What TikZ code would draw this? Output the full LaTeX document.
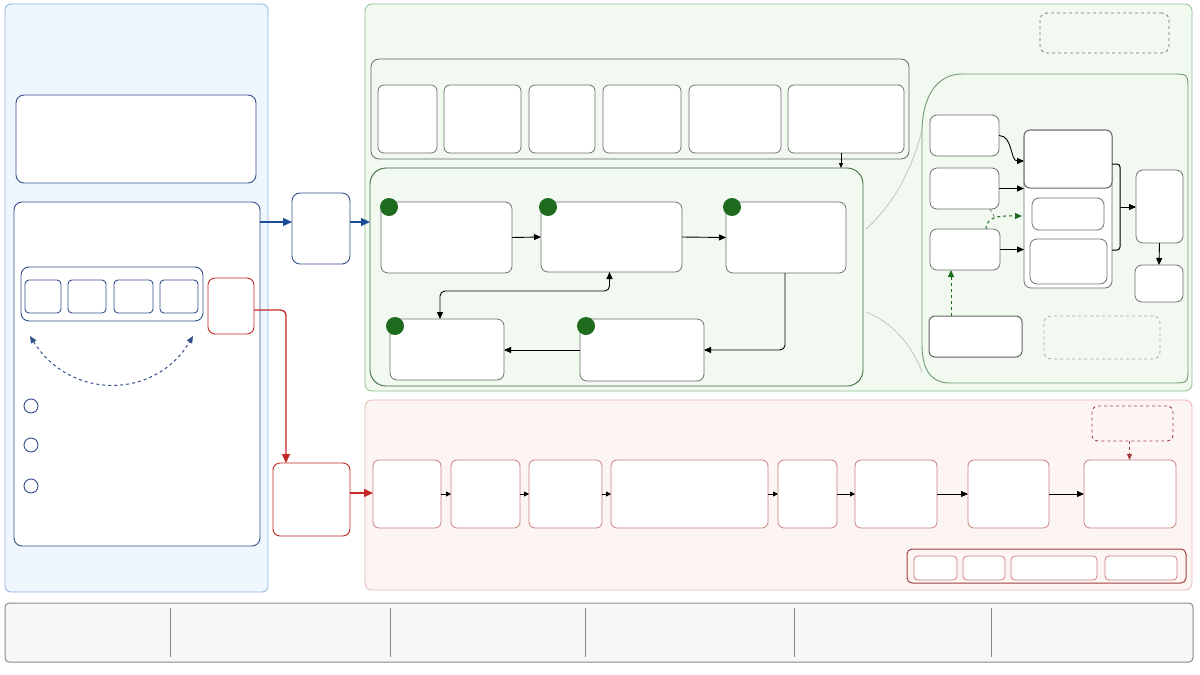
\documentclass[tikz,border=0pt]{standalone}
\usetikzlibrary{arrows.meta,calc}
\definecolor{bluefill}{HTML}{F0F6FD}
\definecolor{bluestroke}{HTML}{8DB4E2}
\definecolor{navy}{HTML}{34508C}
\definecolor{arrowblue}{HTML}{1C4C9C}
\definecolor{redc}{HTML}{C62828}
\definecolor{greenfill}{HTML}{F1F9F0}
\definecolor{greenstroke}{HTML}{8CC08C}
\definecolor{stategreen}{HTML}{3E6E3E}
\definecolor{stripgray}{HTML}{5F6F5F}
\definecolor{boxgray}{HTML}{707070}
\definecolor{dotgreen}{HTML}{1E6B1E}
\definecolor{pinkfill}{HTML}{FDF4F4}
\definecolor{pinkstroke}{HTML}{EBB5B5}
\definecolor{redbox}{HTML}{C98080}
\definecolor{darkred}{HTML}{A04040}
\definecolor{barfill}{HTML}{F7F7F7}
\definecolor{bargray}{HTML}{8A8A8A}
\newcommand\mybox[6]{\node[#1, inner sep=0pt, outer sep=0pt, minimum width={#5pt-#3pt}, minimum height={#6pt-#4pt}] (#2) at ({(#3+#5)/2},{(#4+#6)/2}) {};}
\tikzset{
  bpanel/.style={draw=bluestroke, fill=bluefill, rounded corners=6, line width=0.8pt},
  nbox/.style={draw=navy, fill=white, rounded corners=8, line width=0.9pt},
  nsmall/.style={draw=navy, fill=white, rounded corners=4, line width=0.9pt},
  rbox/.style={draw=redc, fill=white, rounded corners=7, line width=0.9pt},
  gpanel/.style={draw=greenstroke, fill=greenfill, rounded corners=7, line width=0.8pt},
  dashg/.style={draw=boxgray, dashed, rounded corners=7, line width=0.8pt},
  dashl/.style={draw=boxgray!60, dashed, rounded corners=7, line width=0.8pt},
  strip/.style={draw=stripgray, fill=greenfill, rounded corners=8, line width=0.8pt},
  gbox/.style={draw=boxgray, fill=white, rounded corners=6, line width=0.8pt},
  spanel/.style={draw=stategreen, fill=greenfill, rounded corners=16, line width=0.9pt},
  sbox/.style={draw=boxgray, fill=white, rounded corners=7, line width=0.8pt},
  dbox/.style={draw=boxgray!90!black, fill=white, rounded corners=6, line width=1pt},
  dot/.style={circle, fill=dotgreen, minimum size=18pt, inner sep=0pt},
  rpanel/.style={draw=pinkstroke, fill=pinkfill, rounded corners=7, line width=0.8pt},
  rrbox/.style={draw=redbox, fill=white, rounded corners=6, line width=0.8pt},
  legbox/.style={draw=darkred, fill=none, rounded corners=5, line width=1pt},
  legsmall/.style={draw=redbox, fill=white, rounded corners=4, line width=0.8pt},
  dashr/.style={draw=darkred, dashed, rounded corners=6, line width=0.9pt},
  bar/.style={draw=bargray, fill=barfill, rounded corners=4, line width=1pt},
  karrow/.style={draw=black, line width=0.9pt, -{Triangle[length=7pt,width=6pt]}},
  ksmall/.style={draw=black, line width=0.9pt, -{Triangle[length=5pt,width=5pt]}},
  barrow/.style={draw=arrowblue, line width=1.4pt, -{Triangle[length=9pt,width=8pt]}},
  rarrow/.style={draw=redc, line width=1.3pt, rounded corners=5, -{Triangle[length=9pt,width=8pt]}},
}
\begin{document}
\begin{tikzpicture}[x=1pt,y=-1pt]
\useasboundingbox[fill=white] (0,0) rectangle (1200,675);
% ---------- left panel
\mybox{bpanel}{P1}{5}{4}{268}{592}
\mybox{nbox}{A}{16}{95}{256}{183}
\mybox{nbox}{B}{14}{202}{260}{546}
\mybox{nbox}{Grp}{21}{267}{203}{321}
\mybox{nsmall}{g1}{25}{280}{61}{313}
\mybox{nsmall}{g2}{68}{280}{106}{313}
\mybox{nsmall}{g3}{114}{280}{153}{313}
\mybox{nsmall}{g4}{160}{280}{198}{313}
\mybox{rbox}{Rq}{208}{278}{254}{334}
\coordinate (arcL) at (30,336);
\coordinate (arcR) at (193,336);
\draw[navy, dashed, line width=1pt, {Triangle[length=7pt,width=6pt]}-{Triangle[length=7pt,width=6pt]}] (arcL) .. controls (70,400) and (155,400) .. (arcR);
\node[circle, draw=navy, line width=0.9pt, minimum size=14pt, inner sep=0pt] (c1) at (31,406) {};
\node[circle, draw=navy, line width=0.9pt, minimum size=14pt, inner sep=0pt] (c2) at (31,445) {};
\node[circle, draw=navy, line width=0.9pt, minimum size=14pt, inner sep=0pt] (c3) at (31,486) {};
% ---------- middle connectors
\mybox{nbox}{C}{292}{193}{350}{264}
\mybox{rbox}{D}{273}{463}{350}{536}
% ---------- green panel
\mybox{gpanel}{P2}{365}{4}{1192}{391}
\mybox{dashg}{N1}{1040}{13}{1169}{53}
\mybox{strip}{TS}{371}{59}{909}{159}
\mybox{gbox}{t1}{378}{85}{437}{153}
\mybox{gbox}{t2}{444}{85}{521}{153}
\mybox{gbox}{t3}{529}{85}{595}{153}
\mybox{gbox}{t4}{603}{85}{681}{153}
\mybox{gbox}{t5}{689}{85}{781}{153}
\mybox{gbox}{t6}{788}{85}{904}{153}
\mybox{spanel}{SP}{370}{168}{863}{386}
\coordinate (t6s) at ($(t6.south)+(-5,0)$);
\draw[draw=black, line width=0.8pt, -{Triangle[length=5pt,width=4pt]}] (t6s) -- (t6s |- SP.north);
\mybox{sbox}{S1}{381}{202}{512}{273}
\mybox{sbox}{S2}{541}{202}{682}{272}
\mybox{sbox}{S3}{726}{202}{846}{273}
\mybox{sbox}{S4}{390}{319}{504}{380}
\mybox{sbox}{S5}{580}{319}{704}{381}
\node[dot] (d1) at ($(S1.north west)+(8,5)$) {};
\node[dot] (d2) at ($(S2.north west)+(7,5)$) {};
\node[dot] (d3) at ($(S3.north west)+(6,5)$) {};
\node[dot] (d4) at ($(S4.north west)+(5,7)$) {};
\node[dot] (d5) at ($(S5.north west)+(6,7)$) {};
\draw[karrow] (S1.east) -- (S2.west);
\draw[karrow] (S2.east) -- (S3.west);
\draw[karrow, rounded corners=5] ($(S3.south)+(-1,0)$) |- (S5.east);
\draw[karrow] (S5.west) -- (S5.west -| S4.east);
\draw[karrow, {Triangle[length=7pt,width=6pt]}-{Triangle[length=7pt,width=6pt]}, rounded corners=5] ($(S2.south)+(-2,0)$) -- ++(0,19) -| ($(S4.north)+(-7,0)$);
% right sub-panel
\draw[draw=boxgray!50, line width=0.6pt] (922,130) .. controls (912,170) and (893,205) .. (866,229);
\draw[draw=boxgray!50, line width=0.6pt] (866,312) .. controls (892,322) and (912,345) .. (922,372);
\draw[draw=greenstroke!80!black, fill=greenfill, line width=0.9pt] (962,74) -- (1172,74) .. controls (1188,74) .. (1188,90) -- (1188,367) .. controls (1188,383) .. (1172,383) -- (950,383) .. controls (930,383) and (922,368) .. (922,345) -- (922,132) .. controls (922,98) and (936,74) .. (962,74) -- cycle;
\mybox{sbox}{R1}{930}{115}{999}{156}
\mybox{sbox}{R2}{930}{168}{999}{209}
\mybox{sbox}{R3}{930}{229}{1000}{270}
\mybox{dbox}{R4}{929}{316}{1022}{357}
\mybox{sbox}{Tc}{1024}{130}{1112}{288}
\mybox{dbox}{T1}{1024}{130}{1112}{188}
\mybox{sbox}{T2}{1032}{198}{1104}{230}
\mybox{sbox}{T3}{1030}{239}{1107}{284}
\mybox{sbox}{R5}{1136}{170}{1183}{243}
\mybox{sbox}{R6}{1135}{265}{1183}{302}
\mybox{dashl}{N2}{1044}{316}{1160}{359}
\draw[karrow] (R1.east) to[out=0,in=180] ($(T1.west)+(0,2)$);
\draw[karrow] (R2.east) -- (R2.east -| Tc.west);
\draw[karrow] (R3.east) -- (R3.east -| Tc.west);
\coordinate (tcin) at (1022,216);
\coordinate (r3top) at ($(R3.north east)+(-14,0)$);
\draw[draw=dotgreen, dashed, line width=1pt, -{Triangle[length=7pt,width=6pt]}] (r3top) to[out=90,in=180] (tcin);
\coordinate (r2bot) at ($(R2.south east)+(-9,0)$);
\draw[draw=boxgray, dashed, line width=0.8pt] (r2bot) -- ++(5,9);
\coordinate (r4top) at ($(R4.north west)+(22,0)$);
\draw[draw=dotgreen, dashed, line width=1pt, -{Triangle[length=7pt,width=6pt]}] (r4top) -- (r4top |- R3.south);
\draw[draw=black, line width=1pt, rounded corners=3] ($(T1.south east)+(0,-24)$) -- ++(8,0) -- ++(0,86) -- ++(-8,0);
\coordinate (bkm) at ($(T1.south east)+(8,19)$);
\draw[karrow] (bkm) -- (bkm -| R5.west);
\draw[karrow] (R5.south) -- (R6.north);
% ---------- red panel
\mybox{rpanel}{P3}{365}{400}{1192}{590}
\mybox{rrbox}{e1}{373}{460}{441}{528}
\mybox{rrbox}{e2}{451}{460}{520}{528}
\mybox{rrbox}{e3}{529}{460}{602}{528}
\mybox{rrbox}{e4}{611}{460}{768}{528}
\mybox{rrbox}{e5}{778}{460}{837}{528}
\mybox{rrbox}{e6}{855}{460}{937}{528}
\mybox{rrbox}{e7}{968}{460}{1049}{528}
\mybox{rrbox}{e8}{1084}{460}{1176}{528}
\draw[ksmall] (e1.east) -- (e2.west);
\draw[ksmall] (e2.east) -- (e3.west);
\draw[ksmall] (e3.east) -- (e4.west);
\draw[ksmall] (e4.east) -- (e5.west);
\draw[ksmall] (e5.east) -- (e6.west);
\draw[karrow] (e6.east) -- (e7.west);
\draw[karrow] (e7.east) -- (e8.west);
\mybox{dashr}{N3}{1092}{406}{1173}{441}
\coordinate (n3b) at ($(N3.south)+(-3,0)$);
\draw[draw=darkred, dashed, line width=0.9pt, -{Triangle[length=6pt,width=5pt]}] (n3b) -- (n3b |- e8.north);
\mybox{legbox}{L}{907}{549}{1186}{583}
\mybox{legsmall}{l1}{914}{556}{957}{580}
\mybox{legsmall}{l2}{963}{556}{1005}{580}
\mybox{legsmall}{l3}{1011}{556}{1097}{580}
\mybox{legsmall}{l4}{1105}{556}{1177}{580}
% ---------- cross connectors
\draw[barrow] (B.east |- 0,222) -- (C.west |- 0,222);
\draw[barrow] (C.east |- 0,222) -- (SP.west |- 0,222);
\coordinate (dtop) at ($(D.north west)+(13,0)$);
\draw[rarrow] (Rq.east |- 0,310) -| (dtop);
\draw[rarrow] (D.east |- 0,493) -- (e1.west |- 0,493);
% ---------- bottom bar
\mybox{bar}{BAR}{5}{603}{1193}{662}
\foreach \xx in {170,390,585,794,991} \draw[draw=bargray, line width=0.7pt] (\xx,608) -- (\xx,657);
\end{tikzpicture}
\end{document}
